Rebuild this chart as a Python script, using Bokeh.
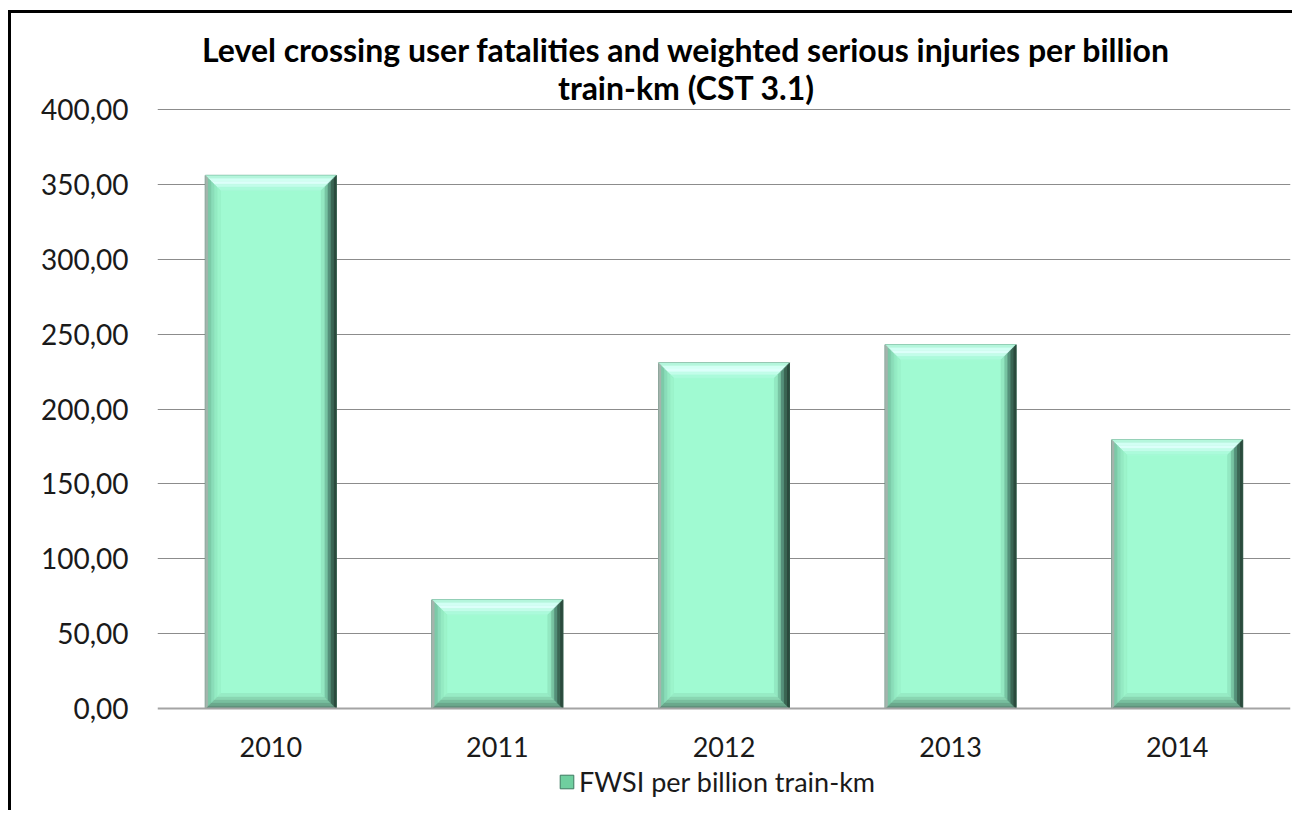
from bokeh.plotting import figure
from bokeh.models import Range1d, FactorRange, Label, Legend, LegendItem, ColumnDataSource, Span
from bokeh.embed import file_html
from bokeh.resources import INLINE

# ---- data ----
years = ["2010", "2011", "2012", "2013", "2014"]
fwsi = [356.0, 72.6, 230.8, 242.9, 179.4]
y_ticks = [0, 50, 100, 150, 200, 250, 300, 350, 400]
title_lines = ["Level crossing user fatalities and weighted serious injuries per billion",
               "train-km (CST 3.1)"]
series_name = "FWSI per billion train-km"

# ---- layout constants (pixels, page coordinates) ----
W, H = 1284, 800
CANVAS_X, CANVAS_Y = 11, 13          # canvas origin on the page (after margin + border)
FL, FR = 146, 5                      # left / right borders around the frame
PLOT_TOP_PX, PLOT_ZERO_PX = 109, 708 # page y of the 400 and 0 gridlines
ymax = 400.0
px_per_unit = (PLOT_ZERO_PX - PLOT_TOP_PX) / ymax
y_hi = (PLOT_ZERO_PX - CANVAS_Y) / px_per_unit
y_lo = -(CANVAS_Y + H - PLOT_ZERO_PX) / px_per_unit
frame_w = W - FL - FR
px_per_cat = frame_w / len(years)
frame_left_page = CANVAS_X + FL
frame_bottom_page = CANVAS_Y + H

FONT = "Lato"

p = figure(width=W, height=H, output_backend="svg", toolbar_location=None,
           x_range=FactorRange(*years, range_padding=0), y_range=Range1d(y_lo, y_hi),
           min_border_left=FL, min_border_right=FR, min_border_top=0, min_border_bottom=0)
p.styles = {"border-left": "3px solid #000000", "border-top": "3px solid #000000",
            "margin-left": "8px", "margin-top": "10px"}
p.outline_line_color = None
p.background_fill_color = "white"
p.border_fill_color = "white"

bar_w = 0.578
# main bar (also used for the legend icon)
src = ColumnDataSource(dict(x=years, top=fwsi))
main = p.vbar(x="x", top="top", width=bar_w, source=src,
              fill_color="#6fcf9f", line_color="#3f7a62", line_width=1)

# bevel bands
N = 5
band_px = 3.0
dx = band_px / px_per_cat
dy = band_px / px_per_unit
sides = {
    "top":    ["#b4f6dc", "#d2fff4", "#dcfffa", "#c2fdea", "#abfbdb"],
    "right":  ["#2b4a3d", "#3b6654", "#55907a", "#78c4a3", "#93e8c2"],
    "bottom": ["#5f917c", "#6aa88c", "#79bf9f", "#89d6b2", "#97ebc5"],
    "left":   ["#a4b4ac", "#7ccaa8", "#8adcb9", "#94eac3", "#9cf4cb"],
}
xs_all, ys_all, cols_all = [], [], []
for i, (yr, v) in enumerate(zip(years, fwsi)):
    c = i + 0.5
    x0, x1 = c - bar_w / 2, c + bar_w / 2
    y0, y1 = 0.0, v
    xs_all.append([x0 + N * dx, x1 - N * dx, x1 - N * dx, x0 + N * dx])
    ys_all.append([y0 + N * dy, y0 + N * dy, y1 - N * dy, y1 - N * dy])
    cols_all.append("#a0fad2")
    for k in range(N):
        a, b = k, k + 1
        xs_all.append([x0 + a * dx, x1 - a * dx, x1 - b * dx, x0 + b * dx])
        ys_all.append([y1 - a * dy, y1 - a * dy, y1 - b * dy, y1 - b * dy])
        cols_all.append(sides["top"][k])
        xs_all.append([x0 + a * dx, x1 - a * dx, x1 - b * dx, x0 + b * dx])
        ys_all.append([y0 + a * dy, y0 + a * dy, y0 + b * dy, y0 + b * dy])
        cols_all.append(sides["bottom"][k])
        xs_all.append([x0 + a * dx, x0 + b * dx, x0 + b * dx, x0 + a * dx])
        ys_all.append([y0 + a * dy, y0 + b * dy, y1 - b * dy, y1 - a * dy])
        cols_all.append(sides["left"][k])
        xs_all.append([x1 - a * dx, x1 - b * dx, x1 - b * dx, x1 - a * dx])
        ys_all.append([y0 + a * dy, y0 + b * dy, y1 - b * dy, y1 - a * dy])
        cols_all.append(sides["right"][k])

p.patches(xs=xs_all, ys=ys_all, fill_color=cols_all, line_color=cols_all, line_width=0.6)

# category axis drawn at y = 0 (inside the frame)
p.xaxis.visible = False
p.add_layout(Span(location=0, dimension="width", line_color="#a4a4a4", line_width=2))
p.text(x=years, y=[0] * len(years), text=years, text_align="center",
       text_baseline="middle", y_offset=38, text_font={"value": FONT},
       text_font_size="27px", text_color="#1a1a1a")

# value axis
p.yaxis.axis_line_color = None
p.yaxis.major_tick_line_color = None
p.yaxis.minor_tick_line_color = None
p.yaxis.ticker = y_ticks
p.yaxis.major_label_overrides = {t: f"{t:.2f}".replace(".", ",") for t in y_ticks}
p.yaxis.major_label_text_font = FONT
p.yaxis.major_label_text_font_size = "28px"
p.yaxis.major_label_text_color = "#1a1a1a"
p.yaxis.major_label_standoff = 23

p.xgrid.grid_line_color = None
p.ygrid.ticker = y_ticks[1:]
p.ygrid.grid_line_color = "#8c8c8c"
p.ygrid.grid_line_width = 1

# title (two lines, centred at page x = 686)
title_cx = 686 - frame_left_page
for txt, mid_page in zip(title_lines, [48.5, 86.5]):
    p.add_layout(Label(x=title_cx, y=(PLOT_ZERO_PX - mid_page) / px_per_unit,
                       x_units="screen", y_units="data", text=txt,
                       text_align="center", text_baseline="middle",
                       text_font=FONT, text_font_style="bold",
                       text_font_size="32px", text_color="#000000"))

# legend
legend = Legend(items=[LegendItem(label=series_name, renderers=[main])],
                location=(558 - frame_left_page, frame_bottom_page - 798),
                orientation="horizontal",
                label_text_font=FONT, label_text_font_size="27px", label_text_color="#1a1a1a",
                glyph_width=17, glyph_height=17, label_standoff=4,
                padding=0, margin=0, border_line_color=None, background_fill_alpha=0)
p.add_layout(legend, "center")

open("out.html", "w").write(file_html(p, INLINE))
